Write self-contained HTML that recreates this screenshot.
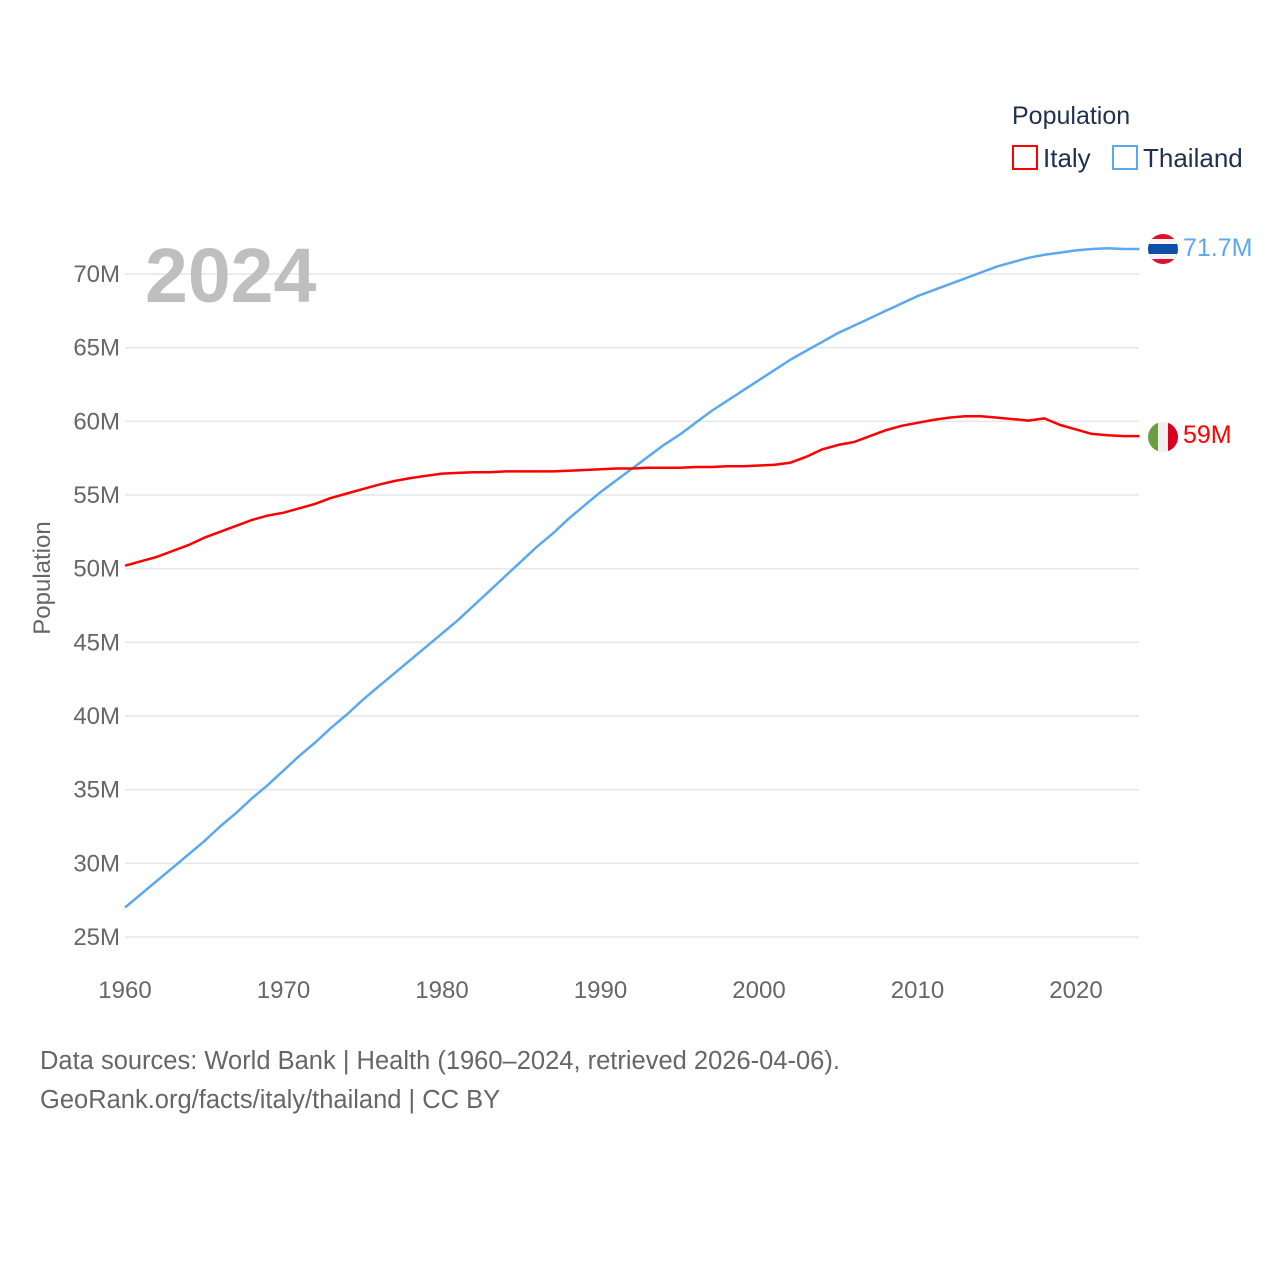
<!DOCTYPE html>
<html><head><meta charset="utf-8"><style>
html,body{margin:0;padding:0;background:#fff;}
svg{display:block;font-family:"Liberation Sans",sans-serif;}
</style></head><body>
<svg id="chart" width="1280" height="1280" viewBox="0 0 1280 1280">
  <g id="grid"></g>
  <g id="yticks"></g>
  <g id="xticks"></g>
  <text x="145" y="302" font-size="77" font-weight="bold" fill="#bfbfbf">2024</text>
  <text transform="translate(50,578) rotate(-90)" text-anchor="middle" font-size="24" fill="#666">Population</text>
  <g id="series"></g>
  <g>
    <text x="1012" y="124" font-size="25" fill="#1f3050">Population</text>
    <g>
      <rect x="1013" y="146" width="24" height="23" fill="none" stroke="#ff0000" stroke-width="2"/>
      <text x="1043" y="167" font-size="26" fill="#1f3050">Italy</text>
    </g>
    <g>
      <rect x="1113" y="146" width="24" height="23" fill="none" stroke="#5ba8ee" stroke-width="2"/>
      <text x="1143" y="167" font-size="26" fill="#1f3050">Thailand</text>
    </g>
  </g>
  <defs>
    <clipPath id="cth"><circle cx="1163" cy="249" r="15"/></clipPath>
    <clipPath id="cit"><circle cx="1163" cy="437" r="15"/></clipPath>
  </defs>
  <g clip-path="url(#cth)">
    <rect x="1148" y="234" width="30" height="30" fill="#e0102e"/>
    <rect x="1148" y="239" width="30" height="20" fill="#f4f4f4"/>
    <rect x="1148" y="244" width="30" height="10" fill="#0b4fa8"/>
  </g>
  <text x="1183" y="256" font-size="25" fill="#5ba8ee">71.7M</text>
  <g clip-path="url(#cit)">
    <rect x="1148" y="422" width="10" height="30" fill="#6a9e43"/>
    <rect x="1158" y="422" width="10" height="30" fill="#efefef"/>
    <rect x="1168" y="422" width="10" height="30" fill="#d6001f"/>
  </g>
  <text x="1183" y="443" font-size="25" fill="#ff0000">59M</text>
  <text x="40" y="1069" font-size="25.5" fill="#666">Data sources: World Bank | Health (1960–2024, retrieved 2026-04-06).</text>
  <text x="40" y="1108" font-size="25.5" fill="#666">GeoRank.org/facts/italy/thailand | CC BY</text>
</svg>
<script>
const yTicks = [25,30,35,40,45,50,55,60,65,70];
const xTicks = [1960,1970,1980,1990,2000,2010,2020];
const years = [];
for (let y = 1960; y <= 2024; y++) years.push(y);
const italy = [50.2,50.5,50.8,51.2,51.6,52.1,52.5,52.9,53.3,53.6,53.8,54.1,54.4,54.8,55.1,55.4,55.7,55.95,56.15,56.3,56.45,56.5,56.55,56.55,56.6,56.6,56.6,56.6,56.65,56.7,56.75,56.8,56.8,56.85,56.85,56.85,56.9,56.9,56.95,56.95,57.0,57.05,57.2,57.6,58.1,58.4,58.6,59.0,59.4,59.7,59.9,60.1,60.25,60.35,60.35,60.25,60.15,60.05,60.2,59.75,59.45,59.15,59.05,59.0,59.0];
const thailand = [27.0,27.9,28.8,29.7,30.6,31.5,32.5,33.4,34.4,35.3,36.3,37.3,38.2,39.2,40.1,41.1,42.0,42.9,43.8,44.7,45.6,46.5,47.5,48.5,49.5,50.5,51.5,52.4,53.4,54.3,55.2,56.0,56.8,57.6,58.4,59.1,59.9,60.7,61.4,62.1,62.8,63.5,64.2,64.8,65.4,66.0,66.5,67.0,67.5,68.0,68.5,68.9,69.3,69.7,70.1,70.5,70.8,71.1,71.3,71.45,71.6,71.7,71.75,71.7,71.7];
const NS = "http://www.w3.org/2000/svg";
const xs = v => 125 + (v - 1960) * (1076 - 125) / 60;
const ys = v => 937 - (v - 25) * (937 - 274) / 45;
const grid = document.getElementById('grid'), yt = document.getElementById('yticks'), xt = document.getElementById('xticks'), ser = document.getElementById('series');
yTicks.forEach(t => {
  const l = document.createElementNS(NS,'line');
  l.setAttribute('x1',125); l.setAttribute('x2',1139); l.setAttribute('y1',ys(t)); l.setAttribute('y2',ys(t));
  l.setAttribute('stroke','#e6e6e6'); l.setAttribute('stroke-width','1.5');
  
  
  grid.appendChild(l);
  const tx = document.createElementNS(NS,'text');
  tx.setAttribute('x',120); tx.setAttribute('y',ys(t)+8); tx.setAttribute('text-anchor','end');
  tx.setAttribute('font-size','24'); tx.setAttribute('fill','#666');
  tx.textContent = t + 'M';
  
  
  yt.appendChild(tx);
});
xTicks.forEach(t => {
  const tx = document.createElementNS(NS,'text');
  tx.setAttribute('x',xs(t)); tx.setAttribute('y',998); tx.setAttribute('text-anchor','middle');
  tx.setAttribute('font-size','24'); tx.setAttribute('fill','#666');
  tx.textContent = t;
  
  
  xt.appendChild(tx);
});
function drawLine(vals, color, name) {
  const p = document.createElementNS(NS,'path');
  p.setAttribute('d', vals.map((v,i) => (i ? 'L' : 'M') + xs(years[i]).toFixed(1) + ',' + ys(v).toFixed(1)).join(''));
  p.setAttribute('fill','none'); p.setAttribute('stroke',color); p.setAttribute('stroke-width','2.5');
  p.setAttribute('stroke-linejoin','round');
  
  
  ser.appendChild(p);
}
drawLine(thailand, '#5ba8ee', 'thailand-line');
drawLine(italy, '#ff0000', 'italy-line');
</script>
</body></html>
